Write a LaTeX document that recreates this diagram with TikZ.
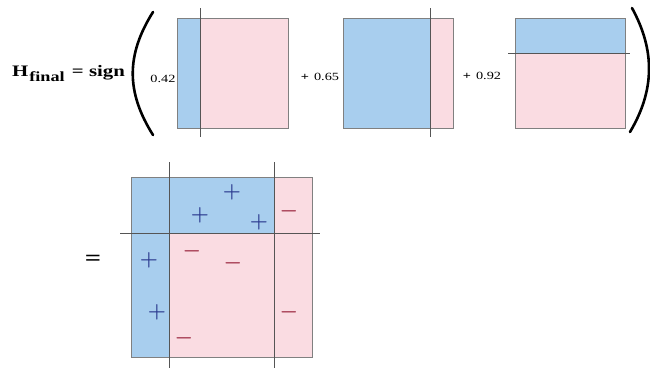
\documentclass[tikz,border=0pt]{standalone}
\usepackage{fontspec}
\setmainfont[FakeStretch=1.3]{Liberation Serif}
\usepackage{bm}
\usepackage{xcolor}
\usetikzlibrary{positioning}
\definecolor{weakBlue}{HTML}{A8CEEE}
\definecolor{weakPink}{HTML}{FADCE2}
\definecolor{boxGray}{HTML}{808080}
\definecolor{splitGray}{HTML}{555555}
\definecolor{plusBlue}{HTML}{2B3A8F}
\definecolor{minusRed}{HTML}{A03048}

\begin{document}
\begin{tikzpicture}[x=1pt,y=-1pt,
    box/.style={draw=boxGray,line width=0.6pt},
    split/.style={draw=splitGray,line width=0.8pt},
    paren/.style={line width=2.6pt,line cap=round},
    coef/.style={font=\fontsize{11}{12}\selectfont,inner sep=0pt},
    posmark/.style={text=plusBlue,font=\fontsize{20}{20}\selectfont,inner sep=0pt},
    negmark/.style={text=minusRed,font=\fontsize{20}{20}\selectfont,inner sep=0pt}]
  \useasboundingbox (0,0) rectangle (650,368);
  % left hand side
  \node[anchor=west,inner sep=0pt,font=\fontsize{16}{16}\bfseries] (hfinal) at (12,74)
    {H\hspace{1pt}\raisebox{-5pt}{\fontsize{14}{14}\selectfont final}\hspace{2pt} = sign};
  \draw[paren] (153,12) .. controls (126,55) and (126,92) .. (153,135);
  % weak classifier 1
  \fill[weakBlue] (177,18) rectangle (200,128);
  \fill[weakPink] (200,18) rectangle (288,128);
  \draw[box] (177,18) rectangle (288,128);
  \coordinate (s1a) at (200,8); \coordinate (s1b) at (200,137);
  \draw[split] (s1a)--(s1b);
  \node[coef] (c1) at (163,79) {0.42};
  % weak classifier 2
  \fill[weakBlue] (343,18) rectangle (430,128);
  \fill[weakPink] (430,18) rectangle (453,128);
  \draw[box] (343,18) rectangle (453,128);
  \coordinate (s2a) at (430,8); \coordinate (s2b) at (430,137);
  \draw[split] (s2a)--(s2b);
  \node[coef] (c2) at (320,77) {\textbf{+}\hspace{5pt}0.65};
  % weak classifier 3
  \fill[weakBlue] (515,18) rectangle (625,53);
  \fill[weakPink] (515,53) rectangle (625,128);
  \draw[box] (515,18) rectangle (625,128);
  \coordinate (s3a) at (508,53); \coordinate (s3b) at (630,53);
  \draw[split] (s3a)--(s3b);
  \node[coef] (c3) at (482,76) {\textbf{+}\hspace{5pt}0.92};
  \draw[paren] (632,8) .. controls (655,50) and (655,90) .. (630,132);
  % combined classifier
  \node[font=\fontsize{22}{22}\bfseries,inner sep=0pt] (eq) at (93,260) {=};
  \fill[weakBlue] (131,177) rectangle (169,357);
  \fill[weakBlue] (169,177) rectangle (274,233);
  \fill[weakPink] (169,233) rectangle (274,357);
  \fill[weakPink] (274,177) rectangle (312,357);
  \draw[box] (131,177) rectangle (312,357);
  \coordinate (v1a) at (169,162); \coordinate (v1b) at (169,368);
  \coordinate (v2a) at (274,162); \coordinate (v2b) at (274,368);
  \coordinate (ha) at (120,233); \coordinate (hb) at (320,233);
  \draw[split] (v1a)--(v1b);
  \draw[split] (v2a)--(v2b);
  \draw[split] (ha)--(hb);
  \foreach \x/\y [count=\i] in {232/192,200/215,259/222,149/260,157/312}
    \node[posmark] (p\i) at (\x,\y) {$\bm{+}$};
  \foreach \x/\y [count=\i] in {289/211,192/251,233/263,289/312,184/338}
    \node[negmark] (n\i) at (\x,\y) {$\bm{-}$};
\end{tikzpicture}
\end{document}
